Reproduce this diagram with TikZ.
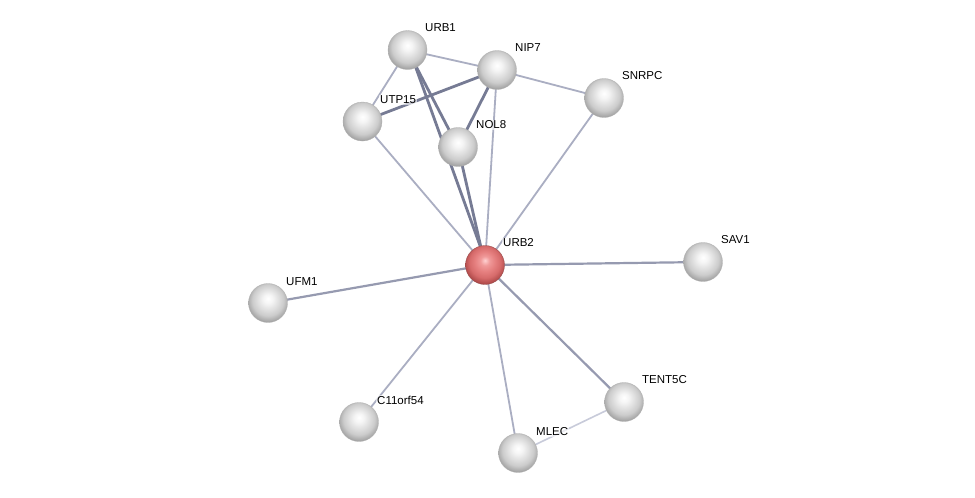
\documentclass[tikz,border=0pt]{standalone}
\usepackage{fontspec}
\setmainfont{Liberation Sans}
\pgfdeclareradialshading{greyball}{\pgfpoint{0bp}{6bp}}{%
  rgb(0bp)=(1,1,1); rgb(6bp)=(0.96,0.96,0.96); rgb(13bp)=(0.88,0.88,0.88);
  rgb(20bp)=(0.8,0.8,0.8); rgb(26bp)=(0.66,0.66,0.66); rgb(31bp)=(0.52,0.52,0.52); rgb(50bp)=(0.52,0.52,0.52)}
\pgfdeclareradialshading{redball}{\pgfpoint{0bp}{6bp}}{%
  rgb(0bp)=(1,0.82,0.82); rgb(6bp)=(0.94,0.6,0.6); rgb(13bp)=(0.9,0.5,0.5);
  rgb(20bp)=(0.84,0.42,0.42); rgb(26bp)=(0.7,0.3,0.3); rgb(31bp)=(0.55,0.2,0.2); rgb(50bp)=(0.55,0.2,0.2)}
\definecolor{eweak}{RGB}{170,174,194}
\definecolor{emid}{RGB}{150,154,176}
\definecolor{estrong}{RGB}{118,123,148}
\definecolor{efaint}{RGB}{200,203,218}
\begin{document}
\begin{tikzpicture}[x=1pt,y=-1pt,
  prot/.style={circle,minimum size=39pt,inner sep=0pt,shading=greyball,draw=gray!60,line width=0.3pt},
  query/.style={prot,shading=redball,draw=red!40!black!70},
  lbl/.style={anchor=south west,font=\fontsize{11.5}{12}\selectfont,inner sep=1pt,fill=white,fill opacity=0.6,text opacity=1},
  weak/.style={draw=eweak,line width=1.8pt},
  mid/.style={draw=emid,line width=2.2pt},
  strong/.style={draw=estrong,line width=2.8pt},
  faint/.style={draw=efaint,line width=1.6pt}]
\useasboundingbox (0,0) rectangle (975,498);
\fill[white] (0,0) rectangle (975,498);
% node centres
\coordinate (cURB1) at (407.5,50);
\coordinate (cNIP7) at (497,70);
\coordinate (cSNRPC) at (604,98);
\coordinate (cUTP15) at (362.5,121.5);
\coordinate (cNOL8) at (458,147);
\coordinate (cURB2) at (485,265);
\coordinate (cSAV1) at (703,262);
\coordinate (cUFM1) at (268,303);
\coordinate (cTENT5C) at (624,402);
\coordinate (cC11) at (359,422);
\coordinate (cMLEC) at (518,453);
% edges
\draw[weak] (cURB1) -- (cNIP7);
\draw[weak] (cURB1) -- (cUTP15);
\draw[strong] (cURB1) -- (cNOL8);
\draw[strong] ([xshift=2pt]cURB1) -- ([xshift=2pt]cURB2);
\draw[strong] (cNIP7) -- (cUTP15);
\draw[strong] (cNIP7) -- (cNOL8);
\draw[weak] (cNIP7) -- (cSNRPC);
\draw[weak] (cNIP7) -- (cURB2);
\draw[weak] (cUTP15) -- (cURB2);
\draw[strong] (cNOL8) -- (cURB2);
\draw[weak] (cSNRPC) -- (cURB2);
\draw[mid] (cURB2) -- (cSAV1);
\draw[mid] (cURB2) -- (cUFM1);
\draw[weak] (cURB2) -- (cC11);
\draw[weak] (cURB2) -- (cMLEC);
\draw[mid] (cURB2) -- (cTENT5C);
\draw[faint] (cMLEC) -- (cTENT5C);
% balls
\node[prot] (URB1) at (cURB1) {};
\node[prot] (NIP7) at (cNIP7) {};
\node[prot] (SNRPC) at (cSNRPC) {};
\node[prot] (UTP15) at (cUTP15) {};
\node[prot] (NOL8) at (cNOL8) {};
\node[query] (URB2) at (cURB2) {};
\node[prot] (SAV1) at (cSAV1) {};
\node[prot] (UFM1) at (cUFM1) {};
\node[prot] (TENT5C) at (cTENT5C) {};
\node[prot] (C11) at (cC11) {};
\node[prot] (MLEC) at (cMLEC) {};
% labels
\node[lbl] (lURB1) at (424,33) {URB1};
\node[lbl] (lNIP7) at (514,53) {NIP7};
\node[lbl] (lSNRPC) at (621,81) {SNRPC};
\node[lbl] (lUTP15) at (379,105) {UTP15};
\node[lbl] (lNOL8) at (475,130) {NOL8};
\node[lbl] (lURB2) at (502,248) {URB2};
\node[lbl] (lSAV1) at (720,245) {SAV1};
\node[lbl] (lUFM1) at (285,287) {UFM1};
\node[lbl] (lTENT5C) at (641,385) {TENT5C};
\node[lbl] (lC11) at (376,406) {C11orf54};
\node[lbl] (lMLEC) at (535,437) {MLEC};
\end{tikzpicture}
\end{document}
